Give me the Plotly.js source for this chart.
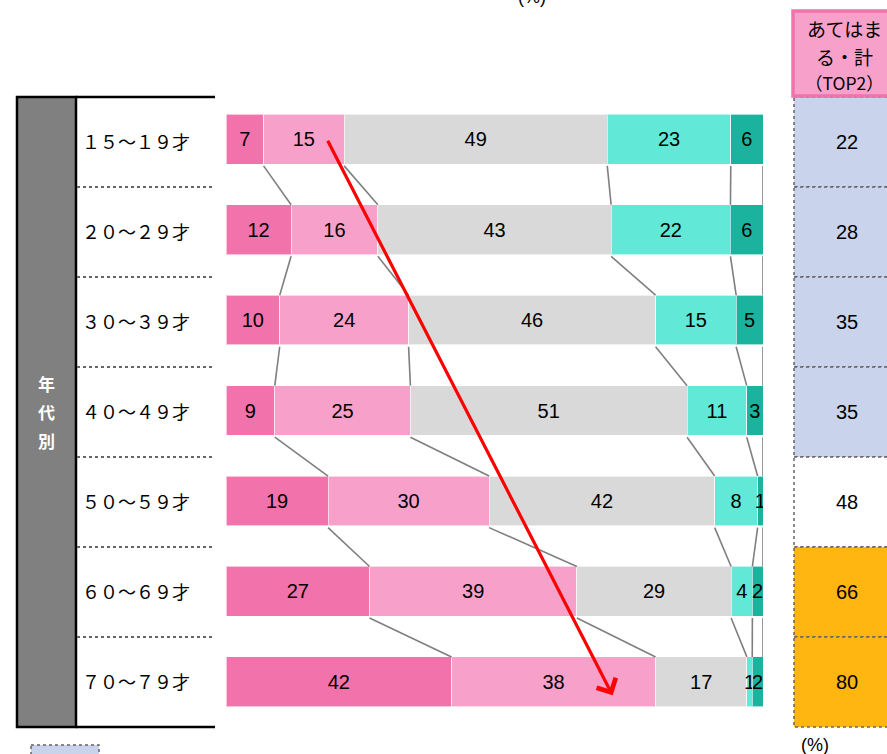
<!DOCTYPE html>
<html><head><meta charset="utf-8">
<script src="https://cdn.plot.ly/plotly-3.0.1.min.js"></script>
<style>html,body{margin:0;padding:0;background:#fff}#chart{width:887px;height:754px}</style>
</head><body><div id="chart"></div>
<script>
// ---- data ----
const ageLabels = ["１５～１９才","２０～２９才","３０～３９才","４０～４９才","５０～５９才","６０～６９才","７０～７９才"];
const seriesNames = ["とてもあてはまる","ややあてはまる","どちらともいえない","あまりあてはまらない","まったくあてはまらない"];
const s1 = [7, 12, 10, 9, 19, 27, 42];
const s2 = [15, 16, 24, 25, 30, 39, 38];
const s3 = [49, 43, 46, 51, 42, 29, 17];
const s4 = [23, 22, 15, 11, 8, 4, 1];
const s5 = [6, 6, 5, 3, 1, 2, 2];
const top2 = [22, 28, 35, 35, 48, 66, 80];
const groupLabel = ["年", "代", "別"];
const headerLines = ["あてはま", "る・計", "（TOP2）"];
const arrowFrom = [18.8, 0.0];   // [x%, row]
const arrowTo = [72.0, 6.15];

// ---- style ----
const colors = ["#F272AC", "#F7A1CA", "#D9D9D9", "#61E8D6", "#1CB39E"];
const W = 887, H = 754;
const PX = x => x / W, PY = y => 1 - y / H;
const rows = ageLabels.map((_, i) => i);
const series = [s1, s2, s3, s4, s5];
const barW = 0.55;

const traces = series.map((vals, k) => ({
  type: "bar", orientation: "h", name: seriesNames[k],
  x: vals, y: rows, width: barW,
  marker: {color: colors[k], line: {color: "rgba(255,255,255,0.6)", width: 1}},
  text: vals.map(String), texttemplate: "%{text}",
  textposition: "inside", insidetextanchor: "middle",
  textfont: {family: "Liberation Sans, Arial", size: 20, color: "#000"},
  hoverinfo: "skip", showlegend: false
}));

// connector lines between boundaries of consecutive rows (normalised to 100)
const cum = rows.map(i => {
  const tot = series.reduce((a, s) => a + s[i], 0);
  let c = 0; return series.map(s => { c += s[i]; return c / tot * 100; });
});
const lx = [], ly = [];
for (let i = 0; i < rows.length - 1; i++) {
  for (let k = 0; k < series.length; k++) {
    lx.push(cum[i][k], cum[i + 1][k], null);
    ly.push(i + barW / 2 + 0.02, i + 1 - barW / 2, null);
  }
}
traces.push({type: "scatter", mode: "lines", x: lx, y: ly,
  line: {color: "#7F7F7F", width: 1.6}, hoverinfo: "skip", showlegend: false});

// ---- table decoration ----
const shapes = [];
const rowTop = i => 97 + i * 90;
shapes.push({type: "rect", xref: "paper", yref: "paper", x0: PX(17), x1: PX(76), y0: PY(97), y1: PY(727),
  fillcolor: "#808080", line: {color: "#000", width: 2.5}, layer: "below"});
shapes.push({type: "line", xref: "paper", yref: "paper", x0: PX(76), x1: PX(215), y0: PY(97), y1: PY(97), line: {color: "#000", width: 2.5}});
shapes.push({type: "line", xref: "paper", yref: "paper", x0: PX(76), x1: PX(215), y0: PY(727), y1: PY(727), line: {color: "#000", width: 2.5}});
for (let i = 1; i < rows.length; i++) {
  shapes.push({type: "line", xref: "paper", yref: "paper", x0: PX(77), x1: PX(215), y0: PY(rowTop(i)), y1: PY(rowTop(i)),
    line: {color: "#666", width: 2, dash: "dot"}});
}
const cellColor = v => v >= 60 ? "#FFB611" : (v >= 45 ? "#FFFFFF" : "#C9D3EB");
const annotations = [];
const ann = (x, y, text, font, extra) => Object.assign({xref: "paper", yref: "paper", x: PX(x), y: PY(y),
  xanchor: "center", yanchor: "middle", text: text, showarrow: false, font: font}, extra || {});
rows.forEach(i => {
  shapes.push({type: "rect", xref: "paper", yref: "paper", x0: PX(794), x1: PX(892), y0: PY(rowTop(i)), y1: PY(rowTop(i + 1)),
    fillcolor: cellColor(top2[i]), line: {color: "#666", width: 1.5, dash: "dot"}, layer: "below"});
  annotations.push(ann(847, rowTop(i) + 45, String(top2[i]), {family: "Liberation Sans, Arial", size: 20, color: "#000"}));
  annotations.push(ann(80, rowTop(i) + 44, ageLabels[i], {family: "Noto Sans CJK JP", size: 18, color: "#000"}, {xanchor: "left"}));
});
shapes.push({type: "rect", xref: "paper", yref: "paper", x0: PX(793), x1: PX(892), y0: PY(11), y1: PY(96),
  fillcolor: "#F7A1CA", line: {color: "#F272AC", width: 3.5}, layer: "below"});
shapes.push({type: "rect", xref: "paper", yref: "paper", x0: PX(31), x1: PX(99), y0: PY(745), y1: PY(760),
  fillcolor: "#C9D3EB", line: {color: "#666", width: 1.5, dash: "dot"}});

const headerY = [28, 56, 83];
const headerSize = [19, 19, 17.5];
headerLines.forEach((t, j) => annotations.push(ann(844, headerY[j], t, {family: "Noto Sans CJK JP", size: headerSize[j], color: "#000"})));
const groupY = [383, 411, 440];
groupLabel.forEach((t, j) => annotations.push(ann(46, groupY[j], t, {family: "Noto Sans CJK JP", size: 17, color: "#fff", weight: "bold"})));
annotations.push(ann(532, -3, "(%)", {family: "Liberation Sans, Arial", size: 18, color: "#000"}));
annotations.push(ann(815, 745, "(%)", {family: "Liberation Sans, Arial", size: 18, color: "#000"}));
annotations.push({x: arrowTo[0], y: arrowTo[1], ax: arrowFrom[0], ay: arrowFrom[1], xref: "x", yref: "y", axref: "x", ayref: "y",
  text: "", showarrow: true, arrowcolor: "#FF0000", arrowwidth: 3.2, arrowhead: 4, arrowsize: 1.3});

const layout = {
  width: W, height: H, margin: {l: 0, r: 0, t: 0, b: 0},
  paper_bgcolor: "#fff", plot_bgcolor: "rgba(0,0,0,0)",
  barmode: "stack", barnorm: "percent", showlegend: false,
  uniformtext: {mode: "show", minsize: 20},
  xaxis: {domain: [PX(226), PX(763)], range: [0, 100], visible: false, fixedrange: true},
  yaxis: {domain: [PY(727), PY(94)], range: [6.5, -0.5], visible: false, fixedrange: true},
  shapes: shapes, annotations: annotations
};
Plotly.newPlot("chart", traces, layout, {displayModeBar: false, staticPlot: true});
</script></body></html>
